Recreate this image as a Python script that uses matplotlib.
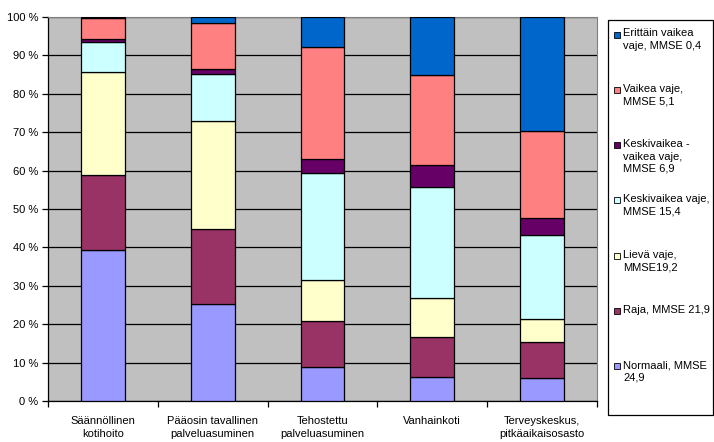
import numpy as np
import matplotlib.pyplot as plt
from matplotlib.patches import Rectangle

plt.rcParams['font.family'] = ['Liberation Sans', 'DejaVu Sans']

# Asumismuodot (x-akseli)
kategoriat = ['Säännöllinen\nkotihoito', 'Pääosin tavallinen\npalveluasuminen',
              'Tehostettu\npalveluasuminen', 'Vanhainkoti',
              'Terveyskeskus,\npitkäaikaisosasto']

# Osuudet (%) alhaalta ylös
normaali = [39.2, 25.2, 8.8, 6.2, 5.9]
raja = [19.7, 19.5, 12.0, 10.4, 9.4]
lieva = [26.7, 28.1, 10.6, 10.1, 6.0]
keskivaikea = [7.8, 12.3, 27.9, 28.9, 21.9]
keskivaikea_vaikea = [0.8, 1.3, 3.6, 5.8, 4.5]
vaikea = [5.5, 12.0, 29.2, 23.4, 22.5]
erittain_vaikea = [0.3, 1.6, 7.9, 15.2, 29.8]

sarjat = [normaali, raja, lieva, keskivaikea, keskivaikea_vaikea, vaikea, erittain_vaikea]
nimet = ['Normaali, MMSE\n24,9', 'Raja, MMSE 21,9', 'Lievä vaje,\nMMSE19,2',
         'Keskivaikea vaje,\nMMSE 15,4', 'Keskivaikea -\nvaikea vaje,\nMMSE 6,9',
         'Vaikea vaje,\nMMSE 5,1', 'Erittäin vaikea\nvaje, MMSE 0,4']
varit = ['#9999FF', '#993366', '#FFFFCC', '#CCFFFF', '#660066', '#FF8080', '#0066CC']

W, H = 714, 442
fig = plt.figure(figsize=(W / 100, H / 100), dpi=100)
ax = fig.add_axes([48 / W, 1 - 401 / H, 549 / W, 384 / H])
ax.set_facecolor('#C0C0C0')

x = np.arange(len(kategoriat))
pohja = np.zeros(len(kategoriat))
for arvot, vari in zip(sarjat, varit):
    ax.bar(x, arvot, width=0.4, bottom=pohja, color=vari, edgecolor='black',
           linewidth=0.9, zorder=3)
    pohja = pohja + np.array(arvot)

ax.set_xlim(-0.5, len(kategoriat) - 0.5)
ax.set_ylim(0, 100)
ax.set_yticks(range(0, 101, 10))
ax.set_yticklabels([f'{v} %' for v in range(0, 101, 10)], fontsize=8)
ax.yaxis.grid(True, color='black', linewidth=0.9, zorder=1)
ax.set_axisbelow(True)

ax.set_xticks(x)
ax.set_xticklabels(kategoriat, fontsize=8, linespacing=1.3, va='top')
ax.set_xticks(np.arange(-0.5, len(kategoriat), 1), minor=True)
ax.tick_params(axis='x', which='major', length=0, pad=11)
ax.tick_params(axis='x', which='minor', length=4, width=0.9, direction='out')
ax.tick_params(axis='y', length=4, width=0.9, pad=3)

for s in ['top', 'right']:
    ax.spines[s].set_color('#808080')
for s in ['left', 'bottom']:
    ax.spines[s].set_color('black')
    ax.spines[s].set_linewidth(0.9)

# Selite
fig.add_artist(Rectangle((608 / W, 1 - 415 / H), 105 / W, 395 / H,
                         transform=fig.transFigure, facecolor='white',
                         edgecolor='black', linewidth=0.9))
for i, (nimi, vari) in enumerate(zip(nimet[::-1], varit[::-1])):
    yc = 34.5 + i * 55.3
    fig.add_artist(Rectangle((614 / W, 1 - (yc + 3) / H), 6 / W, 6 / H,
                             transform=fig.transFigure, facecolor=vari,
                             edgecolor='black', linewidth=0.6))
    fig.text(623 / W, 1 - (yc - 6) / H, nimi, fontsize=8, va='top',
             ha='left', linespacing=1.3)

fig.savefig('out.png', dpi=100)
